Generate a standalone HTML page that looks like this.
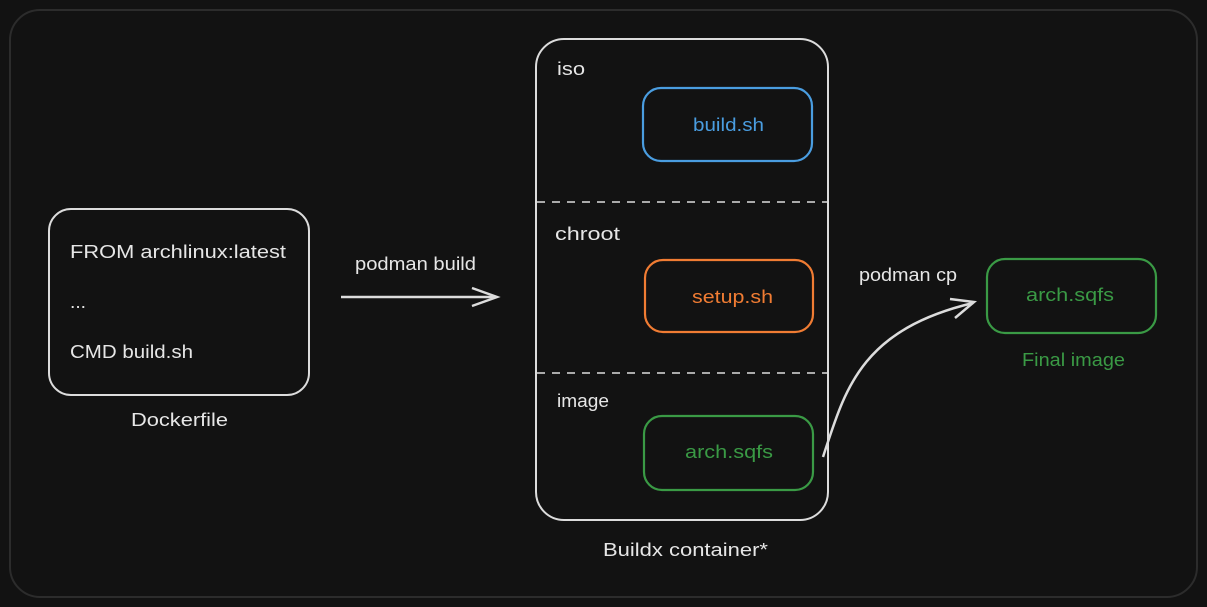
<!DOCTYPE html>
<html><head><meta charset="utf-8"><style>
html,body{margin:0;padding:0;background:#121212;}
svg{display:block;}
text{font-family:"Liberation Sans",sans-serif;font-size:18px;}
</style></head><body>
<svg width="1207" height="607" viewBox="0 0 1207 607" xmlns="http://www.w3.org/2000/svg">
<rect x="0" y="0" width="1207" height="607" fill="#121212"/>
<rect x="10" y="10" width="1187" height="587" rx="30" fill="#121212" stroke="#2c2c2c" stroke-width="2"/>
<rect x="49" y="209" width="260" height="186" rx="22" fill="none" stroke="#dcdcdc" stroke-width="2"/>
<text x="70" y="258" fill="#e6e6e6" textLength="216" lengthAdjust="spacingAndGlyphs">FROM archlinux:latest</text>
<text x="70" y="308" fill="#e6e6e6" textLength="16" lengthAdjust="spacingAndGlyphs">...</text>
<text x="70" y="358" fill="#e6e6e6" textLength="123" lengthAdjust="spacingAndGlyphs">CMD build.sh</text>
<text x="131" y="426" fill="#e6e6e6" textLength="97" lengthAdjust="spacingAndGlyphs">Dockerfile</text>
<text x="355" y="270" fill="#e6e6e6" font-size="17" textLength="121" lengthAdjust="spacingAndGlyphs">podman build</text>
<line x1="341" y1="297" x2="496" y2="297" stroke="#dcdcdc" stroke-width="2.5"/>
<polyline points="472,288 497,297 472,306" fill="none" stroke="#dcdcdc" stroke-width="2.5"/>
<rect x="536" y="39" width="292" height="481" rx="28" fill="none" stroke="#dcdcdc" stroke-width="2"/>
<line x1="537" y1="202" x2="827" y2="202" stroke="#dcdcdc" stroke-width="1.5" stroke-dasharray="8,7"/>
<line x1="537" y1="373" x2="827" y2="373" stroke="#dcdcdc" stroke-width="1.5" stroke-dasharray="8,7"/>
<text x="557" y="75" fill="#e6e6e6" textLength="28" lengthAdjust="spacingAndGlyphs">iso</text>
<text x="555" y="240" fill="#e6e6e6" textLength="65" lengthAdjust="spacingAndGlyphs">chroot</text>
<text x="557" y="407" fill="#e6e6e6" textLength="52" lengthAdjust="spacingAndGlyphs">image</text>
<rect x="643" y="88" width="169" height="73" rx="18" fill="none" stroke="#4a9de0" stroke-width="2.2"/>
<text x="693" y="131" fill="#4a9de0" textLength="71" lengthAdjust="spacingAndGlyphs">build.sh</text>
<rect x="645" y="260" width="168" height="72" rx="18" fill="none" stroke="#f07c33" stroke-width="2.2"/>
<text x="692" y="303" fill="#f07c33" textLength="81" lengthAdjust="spacingAndGlyphs">setup.sh</text>
<rect x="644" y="416" width="169" height="74" rx="18" fill="none" stroke="#3a9a45" stroke-width="2.2"/>
<text x="685" y="458" fill="#3a9a45" textLength="88" lengthAdjust="spacingAndGlyphs">arch.sqfs</text>
<text x="603" y="556" fill="#e6e6e6" textLength="165" lengthAdjust="spacingAndGlyphs">Buildx container*</text>
<text x="859" y="281" fill="#e6e6e6" font-size="17" textLength="98" lengthAdjust="spacingAndGlyphs">podman cp</text>
<path d="M823,457 C845,390 860,330 973,303" fill="none" stroke="#dcdcdc" stroke-width="2.5"/>
<polyline points="950,299 974,302 955,318" fill="none" stroke="#dcdcdc" stroke-width="2.5"/>
<rect x="987" y="259" width="169" height="74" rx="18" fill="none" stroke="#3a9a45" stroke-width="2.2"/>
<text x="1026" y="301" fill="#3a9a45" textLength="88" lengthAdjust="spacingAndGlyphs">arch.sqfs</text>
<text x="1022" y="366" fill="#3a9a45" textLength="103" lengthAdjust="spacingAndGlyphs">Final image</text>
</svg>
</body></html>
